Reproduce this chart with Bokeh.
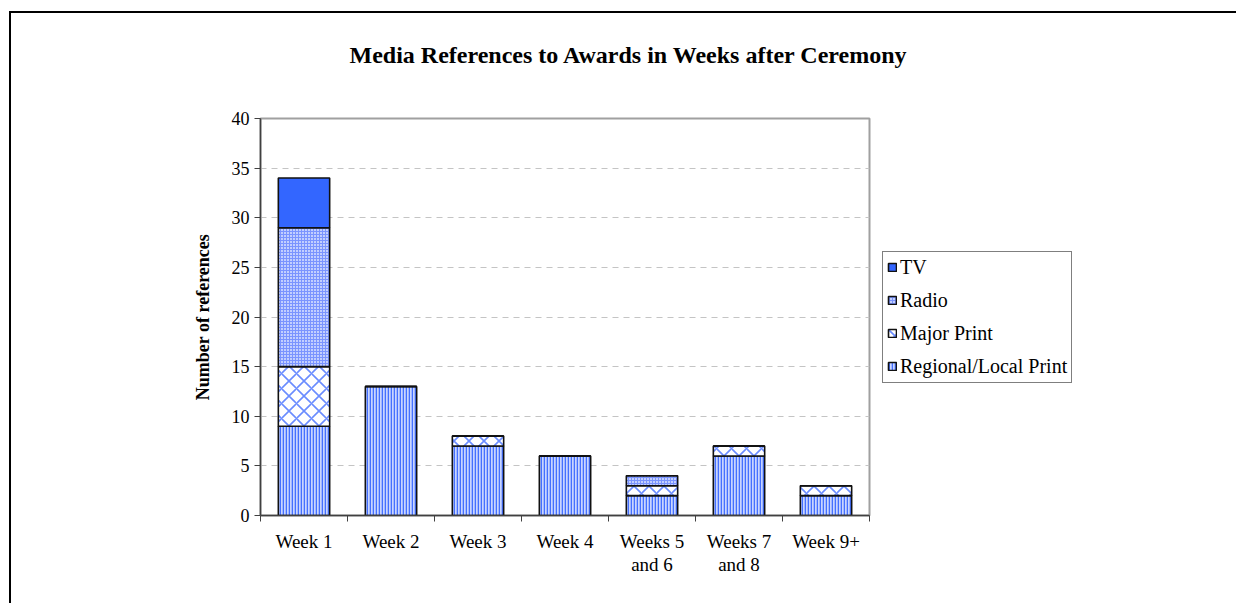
from bokeh.plotting import figure
from bokeh.models import (Range1d, FixedTicker, Legend, LegendItem, Title)
from bokeh.embed import file_html
from bokeh.resources import INLINE

# ---- data ----
categories = ["Week 1", "Week 2", "Week 3", "Week 4",
              "Weeks 5\nand 6", "Weeks 7\nand 8", "Week 9+"]
regional = [9, 13, 7, 6, 2, 6, 2]
major = [6, 0, 1, 0, 1, 1, 1]
radio = [14, 0, 0, 0, 1, 0, 0]
tv = [5, 0, 0, 0, 0, 0, 0]
series_names = ["Regional/Local Print", "Major Print", "Radio", "TV"]
y_ticks = [0, 5, 10, 15, 20, 25, 30, 35, 40]
chart_title = "Media References to Awards in Weeks after Ceremony"

n = len(categories)
xs = [i + 0.5 for i in range(n)]
data = dict(x=xs, regional=regional, major=major, radio=radio, tv=tv)

FONT = "Liberation Serif"

# canvas starts at page (11, 13) because of the margin + border styles
p = figure(frame_width=609, frame_height=397,
           output_backend="svg", toolbar_location=None,
           x_range=Range1d(0, n), y_range=Range1d(0, 40),
           min_border_left=249, min_border_right=367,
           min_border_top=105, min_border_bottom=88,
           background_fill_color="white", border_fill_color="white",
           styles={"margin-left": "9px", "margin-top": "11px",
                   "border-left": "2px solid black",
                   "border-top": "2px solid black",
                   "box-sizing": "content-box"})

# spacer above the frame (closest to the frame), then the real title
p.add_layout(Title(text=" ", text_font_size="1px", standoff=48), "above")
p.add_layout(Title(text=chart_title, align="left", offset=89, standoff=0,
                   text_font=FONT, text_font_size="24px",
                   text_font_style="bold", text_color="black"), "above")

renderers = p.vbar_stack(
    ["regional", "major", "radio", "tv"], x="x", width=0.59, source=data,
    fill_color=["#c9d5ff", "white", "#c2cfff", "#3366ff"],
    hatch_pattern=["vertical_line", "diagonal_cross", "cross", " "],
    hatch_color=["#4470ff", "#6a8cff", "#7a94ff", "#3366ff"],
    hatch_scale=[3, 15, 3, 1],
    hatch_weight=[1.6, 1.6, 1, 1],
    line_color="#111111", line_width=1.6)

legend = Legend(items=[LegendItem(label=nm, renderers=[r])
                       for nm, r in reversed(list(zip(series_names, renderers)))],
                location="center_left", orientation="vertical",
                border_line_color="black", border_line_width=1,
                background_fill_color="white", background_fill_alpha=1,
                label_text_font=FONT, label_text_font_size="20px",
                label_text_color="black",
                glyph_width=10, glyph_height=10, label_standoff=3,
                spacing=10, padding=4, margin=13, label_height=20)
p.add_layout(legend, "right")

# axes
p.xaxis.ticker = FixedTicker(ticks=xs, minor_ticks=list(range(n + 1)))
p.xaxis.major_label_overrides = {x: c for x, c in zip(xs, categories)}
p.xaxis.major_tick_out = 0
p.xaxis.major_tick_in = 0
p.xaxis.minor_tick_out = 6
p.xaxis.minor_tick_in = 0
p.xaxis.minor_tick_line_color = "#404040"
p.xaxis.major_label_standoff = 9
p.xaxis.major_label_text_font = FONT
p.xaxis.major_label_text_font_size = "19px"
p.xaxis.major_label_text_line_height = 1.1
p.xaxis.major_label_text_color = "black"
p.xaxis.axis_line_color = "#404040"
p.xaxis.axis_line_width = 1.5

p.yaxis.ticker = FixedTicker(ticks=y_ticks)
p.yaxis.minor_tick_line_color = None
p.yaxis.major_tick_out = 6
p.yaxis.major_tick_in = 0
p.yaxis.major_tick_line_color = "#404040"
p.yaxis.major_label_text_font = FONT
p.yaxis.major_label_text_font_size = "18px"
p.yaxis.major_label_text_color = "black"
p.yaxis.major_label_standoff = 5
p.yaxis.axis_line_color = "#404040"
p.yaxis.axis_line_width = 1.5
p.yaxis.axis_label = "Number of references"
p.yaxis.axis_label_text_font = FONT
p.yaxis.axis_label_text_font_size = "18px"
p.yaxis.axis_label_text_font_style = "bold"
p.yaxis.axis_label_text_color = "black"
p.yaxis.axis_label_standoff = 16

p.xgrid.grid_line_color = None
p.ygrid.ticker = FixedTicker(ticks=y_ticks)
p.ygrid.grid_line_color = "#c4c4c4"
p.ygrid.grid_line_dash = "6 5"
p.ygrid.grid_line_width = 1.2

p.outline_line_color = "#a0a0a0"
p.outline_line_width = 2

open("out.html", "w").write(file_html(p, INLINE))
